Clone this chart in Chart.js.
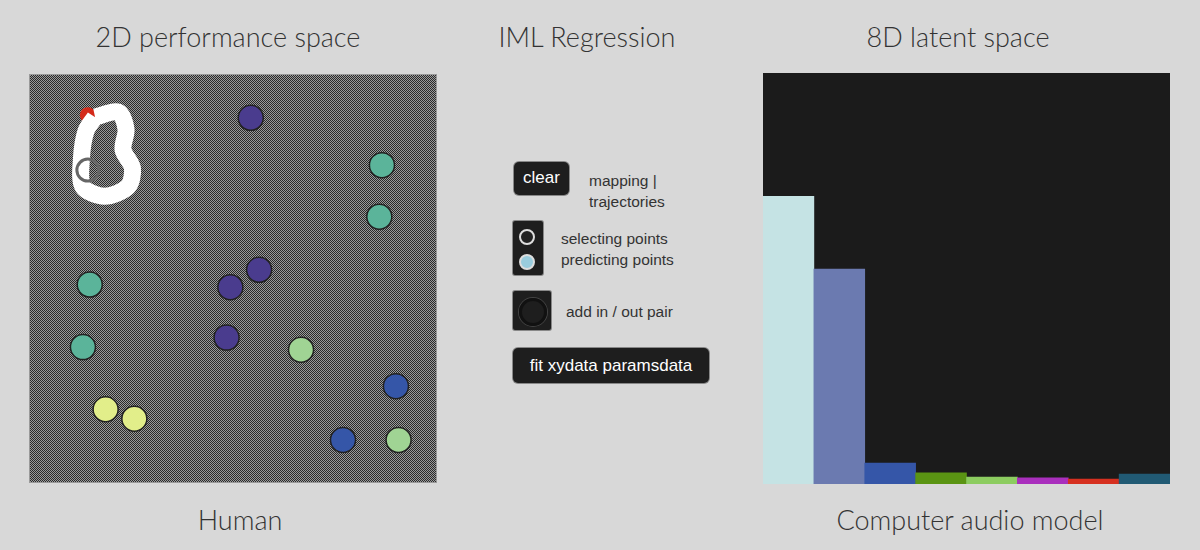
<!DOCTYPE html>
<html><head><meta charset="utf-8">
<script src="https://cdn.jsdelivr.net/npm/chart.js@4"></script>
<style>
body{margin:0;width:1200px;height:550px;background:#d8d8d8;position:relative;overflow:hidden;font-family:Lato,sans-serif}
.t{position:absolute;font-size:27px;color:#333;transform:translateX(-50%);white-space:nowrap;font-weight:300}
.b{position:absolute;background:#1e1e1e;border-radius:5px;color:#fff;font-family:"Liberation Sans",Arial,sans-serif;font-size:17px;box-shadow:0 0 0 1px #888}
.l{position:absolute;font-family:"Liberation Sans",Arial,sans-serif;font-size:15.5px;color:#333;line-height:21px}
.r{position:absolute;width:12px;height:12px;border-radius:50%;border:2px solid #ddd;background:#222}
#c1{position:absolute;left:30px;top:75px}
#c2{position:absolute;left:763px;top:73px}
</style></head><body>
<div class="t" style="left:228px;top:20px">2D performance space</div>
<div class="t" style="left:587px;top:20px">IML Regression</div>
<div class="t" style="left:958px;top:20px">8D latent space</div>
<div class="t" style="left:240px;top:503px">Human</div>
<div class="t" style="left:970px;top:503px">Computer audio model</div>
<div style="position:absolute;left:29px;top:74px;width:408px;height:409px;border:1px solid #999;box-sizing:border-box"></div>
<canvas id="c1" width="406" height="407"></canvas>
<canvas id="c2" width="407" height="411"></canvas>
<div class="b" style="left:514px;top:162px;width:55px;height:33px;line-height:31px;text-align:center">clear</div>
<div class="l" style="left:589px;top:170px">mapping |<br>trajectories</div>
<div class="b" style="left:513px;top:221px;width:30px;height:54px;border-radius:2px"></div>
<div class="r" style="left:519px;top:229px"></div>
<div class="r" style="left:519px;top:254px;background:#9cd"></div>
<div class="l" style="left:561px;top:228px">selecting points<br>predicting points</div>
<div class="b" style="left:513px;top:291px;width:38px;height:39px;border-radius:2px"></div>
<div style="position:absolute;left:519px;top:298px;width:22px;height:22px;border-radius:50%;border:3px solid #111;box-shadow:0 0 0 1px #444"></div>
<div class="l" style="left:566px;top:301px">add in / out pair</div>
<div class="b" style="left:513px;top:348px;width:196px;height:35px;line-height:35px;text-align:center">fit xydata paramsdata</div>
<script>
const ptX=[54.7,89.4,88.7,12.1,56.9,49.3,48.3,68.0,10.3,93.1,16.3,23.9,79.1,93.8];
const ptY=[92.4,79.9,66.3,48.4,52.3,47.7,34.4,31.2,31.9,21.6,15.5,13.0,7.4,7.4];
const ptC=['#4a3c8e','#5bb49a','#5bb49a','#5bb49a','#4a3c8e','#4a3c8e','#4a3c8e','#a0d494','#5bb49a','#3556a8','#e2ee8a','#e2ee8a','#3556a8','#a0d494'];
const trajX=[13.5,19.7,21.7,20.9,23.4,22.2,16.0,10.3,9.9,11.1,13.5];
const trajY=[92.6,93.9,89.4,84.0,79.1,74.2,71.7,74.2,81.6,88.9,92.6];
const barLabels=['1','2','3','4','5','6','7','8'];
const barVals=[0.70,0.523,0.051,0.027,0.017,0.015,0.012,0.024];
const barCols=['#c5e3e4','#6b7ab0','#3556a8','#5a9413','#8ccc60','#a92fbd','#d63020','#215a74'];

function pat(a,b){const c=document.createElement('canvas');c.width=2;c.height=2;const x=c.getContext('2d');
x.fillStyle=a;x.fillRect(0,0,2,2);x.fillStyle=b;x.fillRect(0,0,1,1);x.fillRect(1,1,1,1);
return x.createPattern(c,'repeat');}
const bgPlugin={id:'bg',beforeDraw(ch,a,o){const {ctx,width,height}=ch;ctx.save();ctx.fillStyle=o.fill;ctx.fillRect(0,0,width,height);ctx.restore();}};
const hide={display:false};
new Chart(document.getElementById('c1'),{type:'scatter',plugins:[bgPlugin],
data:{datasets:[
{data:trajX.map((x,i)=>({x,y:trajY[i]})),showLine:true,borderColor:'#fff',borderWidth:17,pointRadius:0,tension:0.3,order:2},
{data:[{x:11.6,y:93.1}],pointRadius:8,backgroundColor:'#d42a1a',borderWidth:0,order:3},
{data:[{x:11.6,y:78.6}],pointRadius:11,backgroundColor:'rgba(255,255,255,0)',borderColor:'#666',borderWidth:3,order:1},
{data:ptX.map((x,i)=>({x,y:ptY[i]})),pointRadius:12.5,backgroundColor:ptC,borderColor:'#222',borderWidth:1.5,order:0}
]},
options:{responsive:false,animation:false,layout:{padding:0},
plugins:{legend:hide,tooltip:{enabled:false},bg:{fill:pat('#2a2a2a','#9a9a9a')}},
scales:{x:{min:0,max:100,display:false},y:{min:0,max:100,display:false}}}});
new Chart(document.getElementById('c2'),{type:'bar',plugins:[bgPlugin],
data:{labels:barLabels,datasets:[{data:barVals,backgroundColor:barCols,categoryPercentage:1,barPercentage:1,borderWidth:0}]},
options:{responsive:false,animation:false,layout:{padding:0},
plugins:{legend:hide,tooltip:{enabled:false},bg:{fill:'#1b1b1b'}},
scales:{x:{display:false},y:{min:0,max:1,display:false}}}});
</script>
</body></html>
